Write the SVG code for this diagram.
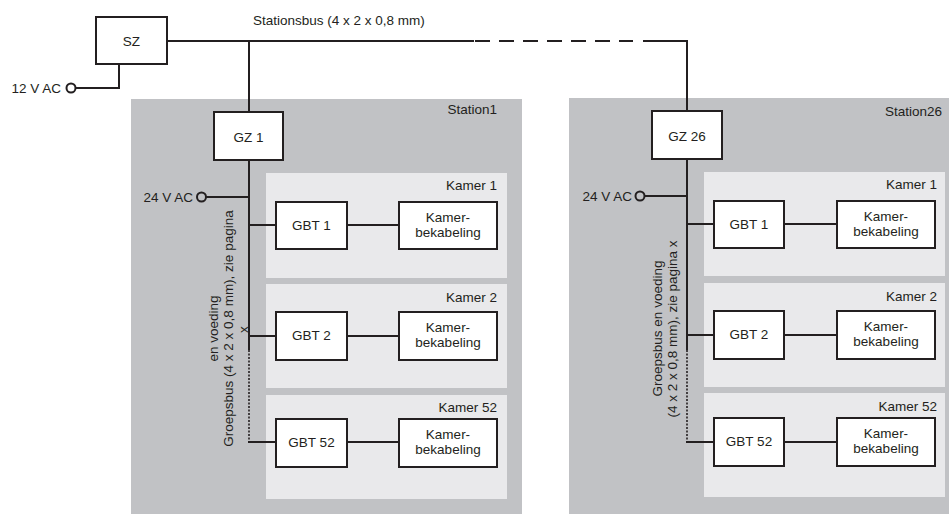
<svg xmlns="http://www.w3.org/2000/svg" width="949" height="514" viewBox="0 0 949 514">
<style>
text{font-family:"Liberation Sans",Arial,sans-serif;font-size:13.5px;fill:#231f20}
.st{fill:#c1c2c5}
.km{fill:#e9e9eb}
.box{fill:#fff;stroke:#231f20;stroke-width:2}
.ln{fill:none;stroke:#231f20;stroke-width:2}
.dot{fill:none;stroke:#231f20;stroke-width:1.6;stroke-dasharray:2 1.5}
.dash{fill:none;stroke:#231f20;stroke-width:2;stroke-dasharray:15 9}
.term{fill:none;stroke:#231f20;stroke-width:2}
.m{text-anchor:middle}
.e{text-anchor:end}
</style>

<g id="station1">
  <rect class="st" x="131" y="99" width="391" height="415"/>
  <text class="e" x="497" y="114">Station1</text>
</g>
<g id="station26">
  <rect class="st" x="569" y="98" width="380" height="416"/>
  <text class="e" x="942" y="116">Station26</text>
</g>

<g id="s1-kamer1"><rect class="km" x="266" y="173" width="241" height="105"/><text class="e" x="497" y="190">Kamer 1</text></g>
<g id="s1-kamer2"><rect class="km" x="266" y="284" width="241" height="104"/><text class="e" x="497" y="302">Kamer 2</text></g>
<g id="s1-kamer52"><rect class="km" x="266" y="395" width="241" height="104"/><text class="e" x="497" y="412">Kamer 52</text></g>

<g id="s26-kamer1"><rect class="km" x="704" y="172" width="241" height="104"/><text class="e" x="937" y="189">Kamer 1</text></g>
<g id="s26-kamer2"><rect class="km" x="704" y="283" width="241" height="104"/><text class="e" x="937" y="301">Kamer 2</text></g>
<g id="s26-kamer52"><rect class="km" x="704" y="393" width="241" height="104"/><text class="e" x="937" y="411">Kamer 52</text></g>

<g id="connectors">
  <!-- Stationsbus -->
  <polyline class="ln" points="167,41 474,41"/>
  <line class="dash" x1="475" y1="41" x2="633" y2="41"/>
  <polyline class="ln" points="643,41 687,41 687,111"/>
  <line class="ln" x1="249" y1="41" x2="249" y2="112"/>
  <!-- 12 V AC -->
  <polyline class="ln" points="75.5,88 119,88 119,64"/>
  <circle class="term" cx="71" cy="88" r="4.5"/>
  <!-- Station1 bus -->
  <line class="ln" x1="249" y1="160" x2="249" y2="350"/>
  <line class="dot" x1="249" y1="350" x2="249" y2="441"/>
  <polyline class="ln" points="249,441 249,442 276,442"/>
  <line class="ln" x1="206" y1="197" x2="249" y2="197"/>
  <circle class="term" cx="201.5" cy="197" r="4.5"/>
  <line class="ln" x1="249" y1="225" x2="276" y2="225"/>
  <line class="ln" x1="249" y1="336" x2="276" y2="336"/>
  <line class="ln" x1="347" y1="225" x2="399" y2="225"/>
  <line class="ln" x1="347" y1="336" x2="399" y2="336"/>
  <line class="ln" x1="347" y1="442" x2="399" y2="442"/>
  <!-- Station26 bus -->
  <line class="ln" x1="687" y1="159" x2="687" y2="350"/>
  <line class="dot" x1="687" y1="350" x2="687" y2="441"/>
  <polyline class="ln" points="687,441 687,442 714,442"/>
  <line class="ln" x1="644.5" y1="196" x2="687" y2="196"/>
  <circle class="term" cx="640" cy="196" r="4.5"/>
  <line class="ln" x1="687" y1="224" x2="714" y2="224"/>
  <line class="ln" x1="687" y1="335" x2="714" y2="335"/>
  <line class="ln" x1="784" y1="224" x2="837" y2="224"/>
  <line class="ln" x1="784" y1="335" x2="837" y2="335"/>
  <line class="ln" x1="784" y1="442" x2="837" y2="442"/>
</g>

<g id="labels">
  <text x="253" y="25">Stationsbus (4 x 2 x 0,8 mm)</text>
  <text class="e" x="61" y="93">12 V AC</text>
  <text class="e" x="193" y="202">24 V AC</text>
  <text class="e" x="632" y="201">24 V AC</text>
  <text class="m" transform="rotate(-90 218 328.5)" x="218" y="328.5">en voeding</text>
  <text class="m" transform="rotate(-90 233 328.5)" x="233" y="328.5">Groepsbus (4 x 2 x 0,8 mm), zie pagina</text>
  <text class="m" transform="rotate(-90 248 329.5)" x="248" y="329.5">x</text>
  <text class="m" transform="rotate(-90 662 328.5)" x="662" y="328.5">Groepsbus en voeding</text>
  <text class="m" transform="rotate(-90 677 329)" x="677" y="329">(4 x 2 x 0,8 mm), zie pagina x</text>
</g>

<g id="sz"><rect class="box" x="96" y="17" width="71" height="47"/><text class="m" x="131.5" y="45.5">SZ</text></g>
<g id="gz1"><rect class="box" x="214" y="112" width="69" height="48"/><text class="m" x="248.5" y="141.5">GZ 1</text></g>
<g id="gz26"><rect class="box" x="652" y="111" width="70" height="48"/><text class="m" x="687" y="140.5">GZ 26</text></g>

<g id="s1-gbt1"><rect class="box" x="276" y="202" width="71" height="47"/><text class="m" x="311.5" y="229.5">GBT 1</text></g>
<g id="s1-gbt2"><rect class="box" x="276" y="312" width="71" height="48"/><text class="m" x="311.5" y="340">GBT 2</text></g>
<g id="s1-gbt52"><rect class="box" x="276" y="419" width="71" height="48"/><text class="m" x="311.5" y="447">GBT 52</text></g>
<g id="s1-kab1"><rect class="box" x="399" y="202" width="98" height="47"/><text class="m" x="448" y="222">Kamer-</text><text class="m" x="448" y="236.5">bekabeling</text></g>
<g id="s1-kab2"><rect class="box" x="399" y="312" width="98" height="48"/><text class="m" x="448" y="332">Kamer-</text><text class="m" x="448" y="346.5">bekabeling</text></g>
<g id="s1-kab52"><rect class="box" x="399" y="419" width="98" height="48"/><text class="m" x="448" y="439">Kamer-</text><text class="m" x="448" y="453.5">bekabeling</text></g>

<g id="s26-gbt1"><rect class="box" x="714" y="201" width="70" height="47"/><text class="m" x="749" y="228.5">GBT 1</text></g>
<g id="s26-gbt2"><rect class="box" x="714" y="311" width="70" height="48"/><text class="m" x="749" y="339">GBT 2</text></g>
<g id="s26-gbt52"><rect class="box" x="714" y="418" width="70" height="48"/><text class="m" x="749" y="446">GBT 52</text></g>
<g id="s26-kab1"><rect class="box" x="837" y="201" width="98" height="47"/><text class="m" x="886" y="221">Kamer-</text><text class="m" x="886" y="235.5">bekabeling</text></g>
<g id="s26-kab2"><rect class="box" x="837" y="311" width="98" height="48"/><text class="m" x="886" y="331">Kamer-</text><text class="m" x="886" y="345.5">bekabeling</text></g>
<g id="s26-kab52"><rect class="box" x="837" y="418" width="98" height="48"/><text class="m" x="886" y="438">Kamer-</text><text class="m" x="886" y="452.5">bekabeling</text></g>
</svg>
